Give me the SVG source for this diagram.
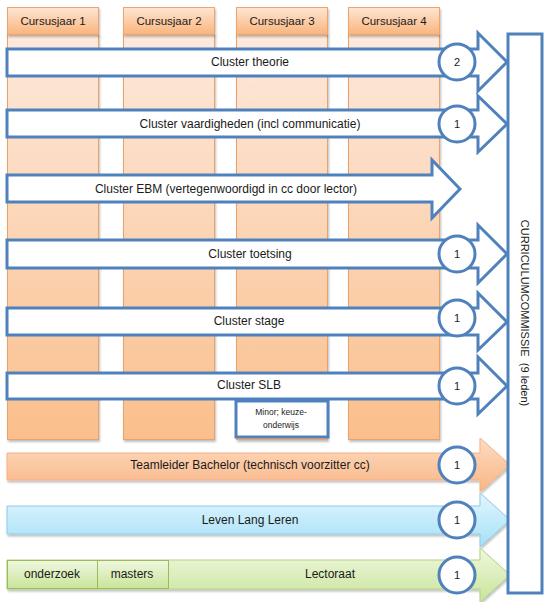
<svg xmlns="http://www.w3.org/2000/svg" width="551" height="602" viewBox="0 0 551 602">
<defs>
<linearGradient id="gBody" x1="0" y1="0" x2="0" y2="1"><stop offset="0" stop-color="#fde9dc"/><stop offset="1" stop-color="#fabf8c"/></linearGradient>
<linearGradient id="gHead" x1="0" y1="0" x2="0" y2="1"><stop offset="0" stop-color="#fde6d4"/><stop offset="1" stop-color="#fab47c"/></linearGradient>
<linearGradient id="gOrange" x1="0" y1="0" x2="0" y2="1"><stop offset="0" stop-color="#fddcc2"/><stop offset="1" stop-color="#f9b585"/></linearGradient>
<linearGradient id="gBlue" x1="0" y1="0" x2="0" y2="1"><stop offset="0" stop-color="#e2f6fe"/><stop offset="1" stop-color="#a6e0f8"/></linearGradient>
<linearGradient id="gGreen" x1="0" y1="0" x2="0" y2="1"><stop offset="0" stop-color="#f0f8e0"/><stop offset="1" stop-color="#c8e49a"/></linearGradient>
<filter id="sh" x="-5%" y="-20%" width="110%" height="150%"><feDropShadow dx="1" dy="2" stdDeviation="1" flood-color="#000" flood-opacity="0.25"/></filter>
</defs>
<style>
text{font-family:"Liberation Sans",Arial,sans-serif;font-size:12px;fill:#1a1a1a;text-anchor:middle}
.hdt{font-size:11.5px}
.cir-t{font-size:11px}
.col{fill:url(#gBody);stroke:#e9a26a;stroke-width:1}
.hd{fill:url(#gHead);stroke:#eea46e;stroke-width:1}
.arr{fill:#fff;stroke:#4f81bd;stroke-width:3;stroke-linejoin:miter}
.cir{fill:#fff;stroke:#4f81bd;stroke-width:3}
.box{fill:#fff;stroke:#4f81bd;stroke-width:3}
</style>

<g id="columns">
<g id="jaar1"><rect class="col" x="7.5" y="34.5" width="91" height="405" filter="url(#sh)"/><rect class="hd" x="7.5" y="7.5" width="91" height="27" filter="url(#sh)"/><text class="hdt" x="53" y="24.5">Cursusjaar 1</text></g>
<g id="jaar2"><rect class="col" x="123.5" y="34.5" width="91" height="405" filter="url(#sh)"/><rect class="hd" x="123.5" y="7.5" width="91" height="27" filter="url(#sh)"/><text class="hdt" x="169" y="24.5">Cursusjaar 2</text></g>
<g id="jaar3"><rect class="col" x="236.5" y="34.5" width="91" height="405" filter="url(#sh)"/><rect class="hd" x="236.5" y="7.5" width="91" height="27" filter="url(#sh)"/><text class="hdt" x="282" y="24.5">Cursusjaar 3</text></g>
<g id="jaar4"><rect class="col" x="348.5" y="34.5" width="91" height="405" filter="url(#sh)"/><rect class="hd" x="348.5" y="7.5" width="91" height="27" filter="url(#sh)"/><text class="hdt" x="394" y="24.5">Cursusjaar 4</text></g>
</g>

<g id="connectors">
<g id="theorie"><polygon class="arr" points="7,49 478,49 478,33 507,62 478,91 478,76 7,76"/><text x="250" y="66">Cluster theorie</text></g>
<g id="vaardigheden"><polygon class="arr" points="7,110 478,110 478,96 507,124 478,152 478,137 7,137"/><text x="250" y="128">Cluster vaardigheden (incl communicatie)</text></g>
<g id="ebm"><polygon class="arr" points="7,175 432,175 432,160 460,189 432,218 432,202 7,202"/><text x="226" y="193">Cluster EBM (vertegenwoordigd in cc door lector)</text></g>
<g id="toetsing"><polygon class="arr" points="7,240 478,240 478,225 507,254 478,283 478,268 7,268"/><text x="250" y="258">Cluster toetsing</text></g>
<g id="stage"><polygon class="arr" points="7,308 478,308 478,293 507,322 478,350 478,335 7,335"/><text x="249" y="325">Cluster stage</text></g>
<g id="slb"><polygon class="arr" points="7,373 478,373 478,357 507,386 478,414 478,399 7,399"/><text x="249" y="389">Cluster SLB</text></g>
<g id="teamleider"><polygon points="7,453 480,453 480,438 510,465 480,492 480,480 7,480" fill="url(#gOrange)" stroke="#f4b183" stroke-width="1" filter="url(#sh)"/><text x="250" y="469">Teamleider Bachelor (technisch voorzitter cc)</text></g>
<g id="lll"><polygon points="7,506 480,506 480,493 510,520 480,547 480,534 7,534" fill="url(#gBlue)" stroke="#8fcbe4" stroke-width="1" filter="url(#sh)"/><text x="250" y="524">Leven Lang Leren</text></g>
<g id="lectoraat"><polygon points="7,560 480,560 480,548 510,575 480,602 480,589 7,589" fill="url(#gGreen)" stroke="#b3d47f" stroke-width="1" filter="url(#sh)"/><rect x="7.5" y="560.5" width="90" height="28" fill="url(#gGreen)" stroke="#9bbb59" stroke-width="1"/><rect x="97.5" y="560.5" width="71" height="28" fill="url(#gGreen)" stroke="#9bbb59" stroke-width="1"/><text x="52" y="578">onderzoek</text><text x="132" y="578">masters</text><text x="330" y="578">Lectoraat</text></g>
</g>

<g id="minor"><rect class="box" x="236" y="401" width="92" height="36"/><text x="281" y="415" style="font-size:8.5px">Minor; keuze-</text><text x="281" y="428" style="font-size:8.5px">onderwijs</text></g>

<g id="circles">
<g id="c1"><circle class="cir" cx="457" cy="62" r="18"/><text class="cir-t" x="457" y="66">2</text></g>
<g id="c2"><circle class="cir" cx="457" cy="124" r="18"/><text class="cir-t" x="457" y="128">1</text></g>
<g id="c3"><circle class="cir" cx="457" cy="254" r="18"/><text class="cir-t" x="457" y="258">1</text></g>
<g id="c4"><circle class="cir" cx="457" cy="318" r="18"/><text class="cir-t" x="457" y="322">1</text></g>
<g id="c5"><circle class="cir" cx="457" cy="386" r="18"/><text class="cir-t" x="457" y="390">1</text></g>
<g id="c6"><circle class="cir" cx="457" cy="465" r="18"/><text class="cir-t" x="457" y="469">1</text></g>
<g id="c7"><circle class="cir" cx="457" cy="520" r="18"/><text class="cir-t" x="457" y="524">1</text></g>
<g id="c8"><circle class="cir" cx="457" cy="575" r="18"/><text class="cir-t" x="457" y="579">1</text></g>
</g>

<g id="curriculumcommissie"><rect class="box" x="508" y="34" width="34" height="559"/><text class="cir-t" transform="translate(521,313) rotate(90)" xml:space="preserve">CURRICULUMCOMMISSIE  (9 leden)</text></g>
</svg>
